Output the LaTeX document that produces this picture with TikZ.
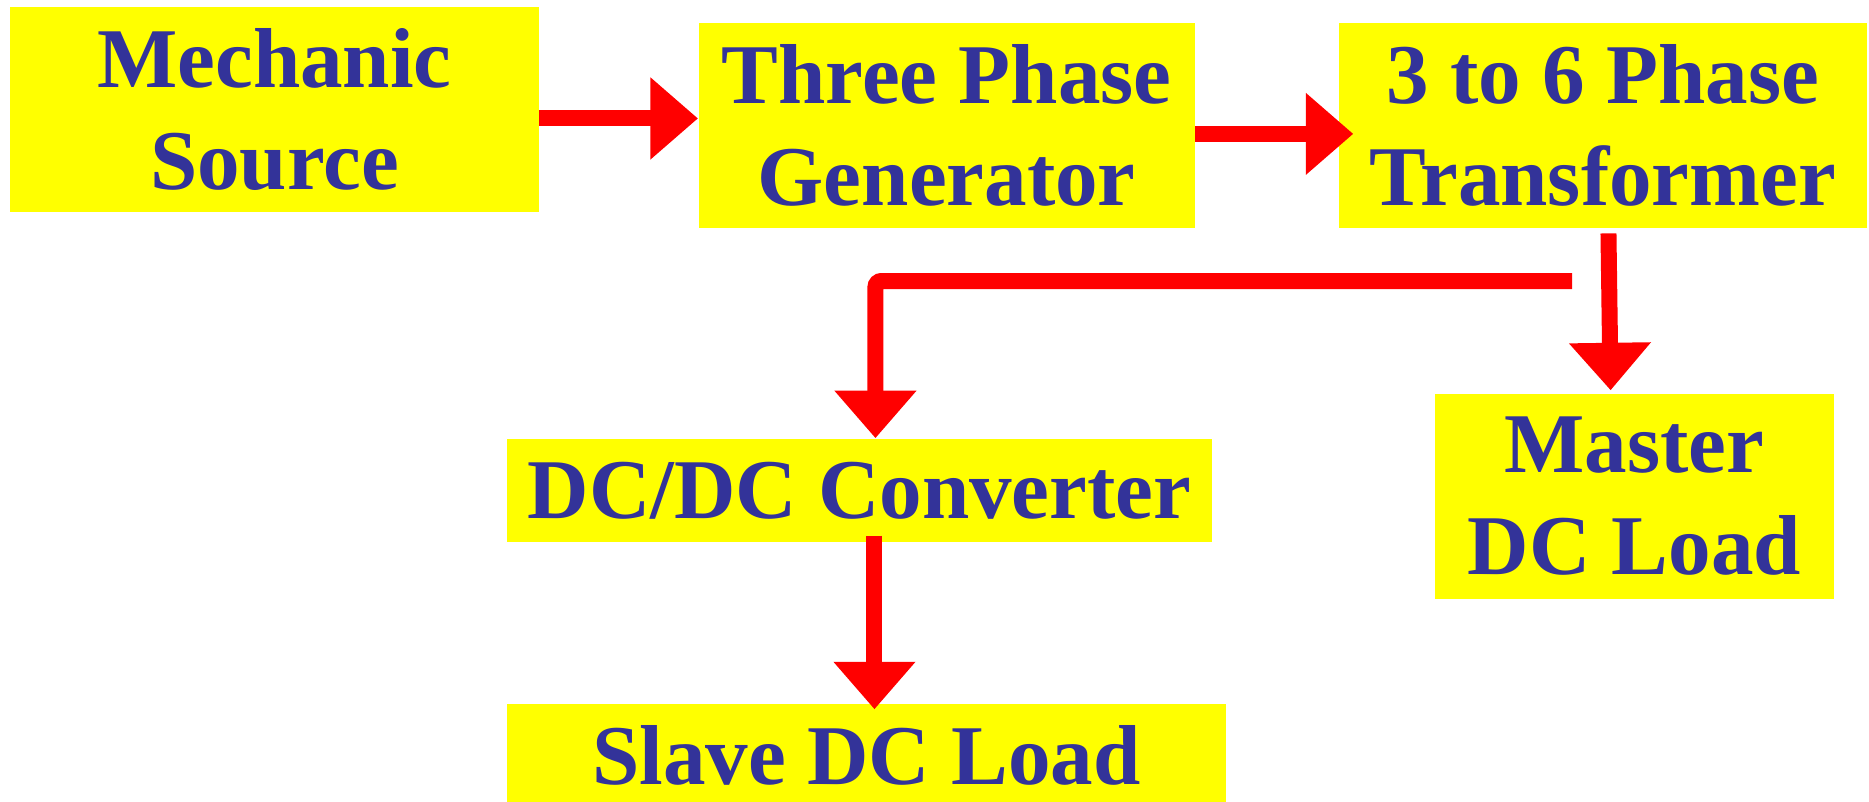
\documentclass[tikz,border=0pt]{standalone}
\usepackage{fontspec}
\setmainfont{Liberation Serif}
\usetikzlibrary{arrows.meta}
\definecolor{txtblue}{RGB}{51,51,153}
\definecolor{boxyellow}{RGB}{255,255,0}
\definecolor{flowred}{RGB}{255,0,0}
\begin{document}
\begin{tikzpicture}[block/.style={fill=boxyellow,text=txtblue,font=\bfseries\fontsize{24.2}{29}\selectfont,align=center,inner sep=0pt},flow/.style={-{Triangle[length=0.475cm,width=0.79cm]},line width=0.16cm,flowred},inner sep=0pt]
    \useasboundingbox (0,0) rectangle (18.69,-8.02);

    %top row
    \node (ms) at (2.745,-1.092)[block,minimum width=5.28cm,minimum height=2.05cm]{Mechanic\\Source};
    \node (gen) at (9.467,-1.252)[block,minimum width=4.96cm,minimum height=2.05cm]{Three Phase\\Generator};
    \node (trf) at (16.03,-1.252)[block,minimum width=5.28cm,minimum height=2.05cm]{3 to 6 Phase\\Transformer};

    %loads
    \node (conv) at (8.595,-4.904)[block,minimum width=7.05cm,minimum height=1.03cm]{DC/DC Converter};
    \node (mst) at (16.345,-4.965)[block,minimum width=3.99cm,minimum height=2.05cm]{Master\\DC Load};
    \node (slv) at (8.665,-7.555)[block,minimum width=7.19cm,minimum height=1.03cm]{Slave DC Load};

    %power flow
    \draw [flow] (ms.358) to (ms.358 -| gen.west);
    \draw [flow,shorten >=-0.15cm] (gen.358) to (gen.358 -| trf.west);
    \draw [flow,shorten <=0.05cm,shorten >=0.03cm] (trf.273) to (mst.103);

    %branch to converter
    \coordinate (br) at (15.72,-2.81);
    \draw [flow,rounded corners=0.06cm] (br) -| (conv.73);
    \draw [flow,shorten <=-0.07cm,shorten >=-0.06cm] (conv.286) to (conv.286 |- slv.north);
\end{tikzpicture}
\end{document}
